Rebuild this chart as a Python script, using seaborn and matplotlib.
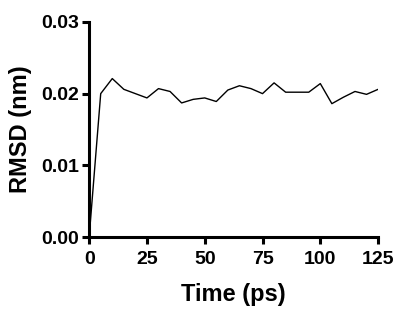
import matplotlib
matplotlib.use("Agg")
import matplotlib.pyplot as plt
import seaborn as sns
import pandas as pd

# RMSD trace, one point every 5 ps
time_ps = [0, 5, 10, 15, 20, 25, 30, 35, 40, 45, 50, 55, 60, 65,
           70, 75, 80, 85, 90, 95, 100, 105, 110, 115, 120, 125]
rmsd_nm = [0.0, 0.0200, 0.0221, 0.0206, 0.0200, 0.0194, 0.0207, 0.0203,
           0.0187, 0.0192, 0.0194, 0.0189, 0.0205, 0.0211, 0.0207, 0.0200,
           0.0215, 0.0202, 0.0202, 0.0202, 0.0214, 0.0186, 0.0195, 0.0203,
           0.0199, 0.0206]

xticks = [0, 25, 50, 75, 100, 125]
yticks = [0.00, 0.01, 0.02, 0.03]

df = pd.DataFrame({"time": time_ps, "rmsd": rmsd_nm})

sns.set_style("ticks")
plt.rcParams["font.family"] = ["Liberation Sans", "DejaVu Sans"]
plt.rcParams["font.weight"] = "bold"
plt.rcParams["text.color"] = "black"
plt.rcParams["axes.labelcolor"] = "black"

fig = plt.figure(figsize=(3.98, 3.09), dpi=100)
ax = fig.add_axes([0.224, 0.233, 0.726, 0.696])

sns.lineplot(data=df, x="time", y="rmsd", ax=ax, color="black", linewidth=1.0)

ax.set_xlim(0, 125)
ax.set_ylim(0, 0.03)
ax.set_xticks(xticks)
ax.set_yticks(yticks)
ax.set_yticklabels([f"{v:.2f}" for v in yticks])
ax.tick_params(axis="both", width=2.2, length=5, labelsize=14, colors="black")
ax.tick_params(axis="x", pad=5)
ax.tick_params(axis="y", pad=2)
for lab in ax.get_xticklabels() + ax.get_yticklabels():
    lab.set_fontweight("bold")

ax.set_xlabel("Time (ps)", fontsize=17, fontweight="bold", labelpad=11)
ax.set_ylabel("RMSD (nm)", fontsize=17, fontweight="bold", labelpad=7)

sns.despine(ax=ax)
for s in ["left", "bottom"]:
    ax.spines[s].set_linewidth(2.2)
    ax.spines[s].set_color("black")

fig.savefig("out.png", dpi=100)
